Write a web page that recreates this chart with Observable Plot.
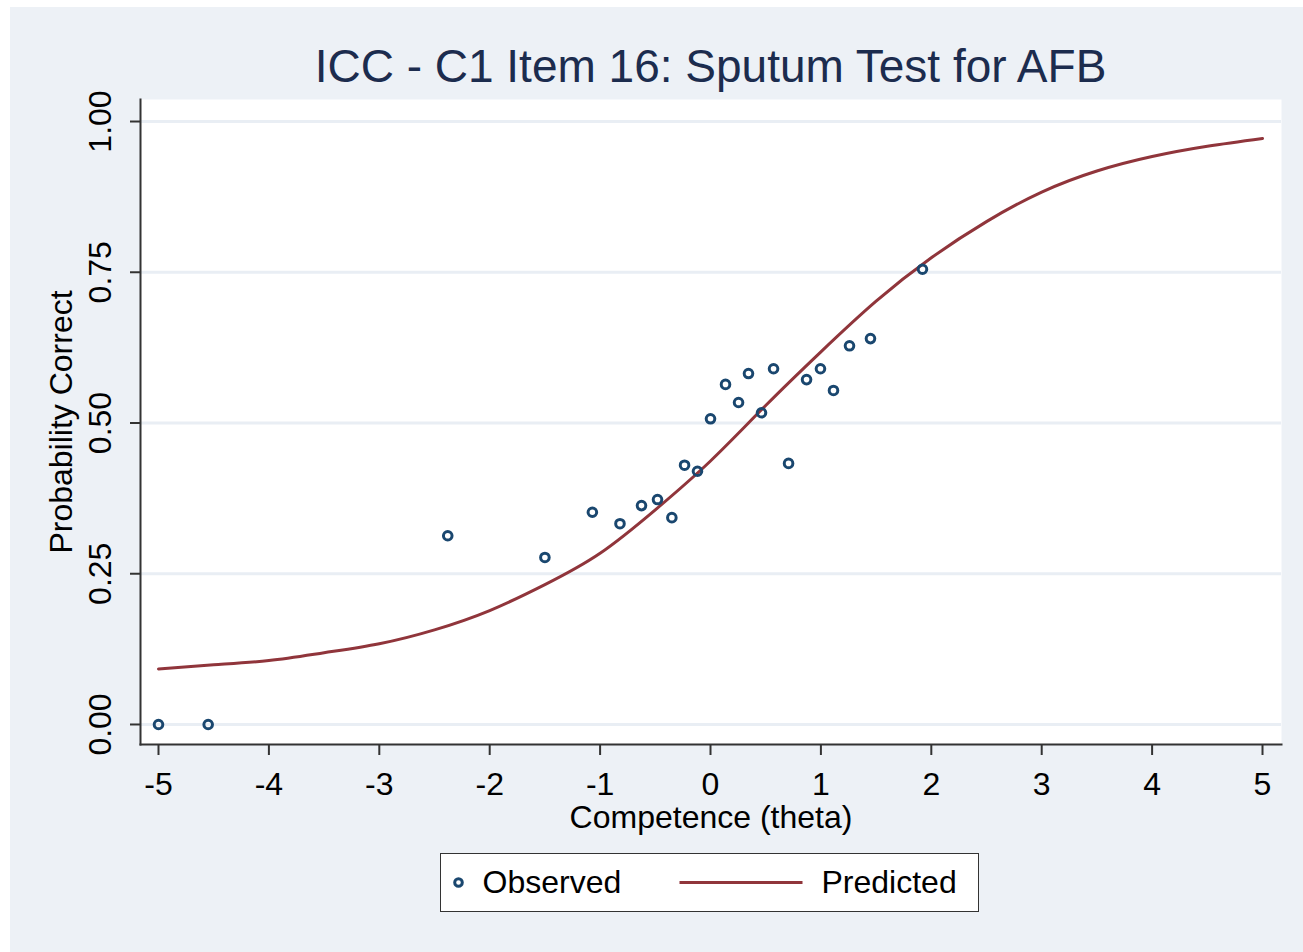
<!DOCTYPE html>
<html>
<head>
<meta charset="utf-8">
<script src="https://cdn.jsdelivr.net/npm/d3@7"></script>
<script src="https://cdn.jsdelivr.net/npm/@observablehq/plot@0.6"></script>
<style>
  html, body { margin: 0; padding: 0; background: #ffffff; }
  body { position: relative; width: 1303px; height: 952px; overflow: hidden; font-family: "Liberation Sans", Arial, sans-serif; }
  #bg { position: absolute; left: 10px; top: 7px; right: 0; bottom: 0; background: #edf1f6; }
  #chart { position: absolute; left: 0; top: 0; }
  #title { position: absolute; left: 140px; width: 1141px; top: 43px; text-align: center; font-size: 46px; line-height: 46px; color: #1c2c4e; white-space: nowrap; }
  #legend { position: absolute; left: 440px; top: 853px; width: 539px; height: 59px; box-sizing: border-box; border: 1.5px solid #333; background: #fff; }
  #legend .lbl { position: absolute; top: 0; font-size: 32px; line-height: 56px; color: #000; white-space: nowrap; }
  #legend svg { position: absolute; top: 0; left: 0; }
</style>
</head>
<body>
<div id="bg"></div>
<div id="chart"></div>
<div id="title">ICC - C1 Item 16: Sputum Test for AFB</div>
<div id="legend">
  <svg width="536" height="56">
    <circle cx="17.5" cy="28.5" r="3.8" fill="none" stroke="#1a476f" stroke-width="3"></circle>
    <line x1="238.5" x2="361.5" y1="28.5" y2="28.5" stroke="#90353b" stroke-width="3"></line>
  </svg>
  <span class="lbl" style="left:41.5px">Observed</span>
  <span class="lbl" style="left:380.5px">Predicted</span>
</div>
<script>
// ---- Data ----
const thetaObserved = [-5, -4.55, -2.38, -1.50, -1.07, -0.82, -0.625, -0.48, -0.35, -0.235, -0.118, 0.0, 0.136, 0.254, 0.344, 0.462, 0.571, 0.707, 0.87, 0.996, 1.114, 1.259, 1.449, 1.92];
const pObserved     = [0, 0, 0.313, 0.277, 0.352, 0.333, 0.363, 0.373, 0.343, 0.430, 0.420, 0.507, 0.564, 0.534, 0.582, 0.517, 0.590, 0.433, 0.572, 0.590, 0.554, 0.628, 0.640, 0.755];

const thetaPredicted = [-5, -4.5, -4, -3.5, -3, -2.5, -2, -1.5, -1, -0.5, 0, 0.5, 1, 1.5, 2, 2.5, 3, 3.5, 4, 4.5, 5];
const pPredicted     = [0.092, 0.099, 0.106, 0.119, 0.134, 0.157, 0.189, 0.232, 0.284, 0.356, 0.437, 0.529, 0.618, 0.702, 0.774, 0.834, 0.883, 0.918, 0.942, 0.959, 0.972];

const xTicks = [-5, -4, -3, -2, -1, 0, 1, 2, 3, 4, 5];
const yTicks = [0, 0.25, 0.5, 0.75, 1];
const xTitle = "Competence (theta)";
const yTitle = "Probability Correct";

const observed = thetaObserved.map((t, i) => ({theta: t, p: pObserved[i]}));
const predicted = thetaPredicted.map((t, i) => ({theta: t, p: pPredicted[i]}));
const fmtY = d3.format(".2f");
const fmtX = d => String(d);

const axisColor = "#333333";

const chart = Plot.plot({
  width: 1303,
  height: 952,
  marginLeft: 140,
  marginRight: 22,
  marginTop: 99,
  marginBottom: 208,
  style: {
    fontFamily: '"Liberation Sans", Arial, sans-serif',
    fontSize: "32px",
    background: "transparent",
    overflow: "visible",
    color: "#000"
  },
  x: {domain: [-5.163, 5.172], axis: null},
  y: {domain: [-0.0332, 1.0365], axis: null},
  marks: [
    Plot.frame({fill: "#ffffff", stroke: "none"}),
    Plot.ruleY(yTicks, {stroke: "#e9eef4", strokeWidth: 3}),
    Plot.line(predicted, {x: "theta", y: "p", stroke: "#90353b", strokeWidth: 3, curve: "natural"}),
    Plot.dot(observed, {x: "theta", y: "p", r: 4.3, stroke: "#1a476f", strokeWidth: 3, fill: "none"}),
    Plot.frame({anchor: "left", stroke: axisColor, strokeWidth: 2}),
    Plot.frame({anchor: "bottom", stroke: axisColor, strokeWidth: 2}),
    Plot.axisX({ticks: xTicks, tickSize: 11, tickPadding: 17, stroke: axisColor, strokeWidth: 2, fontSize: 32, label: null, tickFormat: fmtX}),
    Plot.axisY({ticks: yTicks, tickSize: 10, stroke: axisColor, strokeWidth: 2, fill: "none", label: null}),
    Plot.text(yTicks, {y: d => d, frameAnchor: "left", dx: -40, rotate: -90, text: d => fmtY(d), fontSize: 32, textAnchor: "middle", lineAnchor: "middle", fill: "#000"}),
    Plot.text([yTitle], {frameAnchor: "left", dx: -79, rotate: -90, text: d => d, fontSize: 32, textAnchor: "middle", lineAnchor: "middle", fill: "#000"}),
    Plot.text([xTitle], {frameAnchor: "bottom", dy: 73, text: d => d, fontSize: 32, textAnchor: "middle", lineAnchor: "middle", fill: "#000"})
  ]
});
document.getElementById("chart").appendChild(chart);
</script>
</body>
</html>
